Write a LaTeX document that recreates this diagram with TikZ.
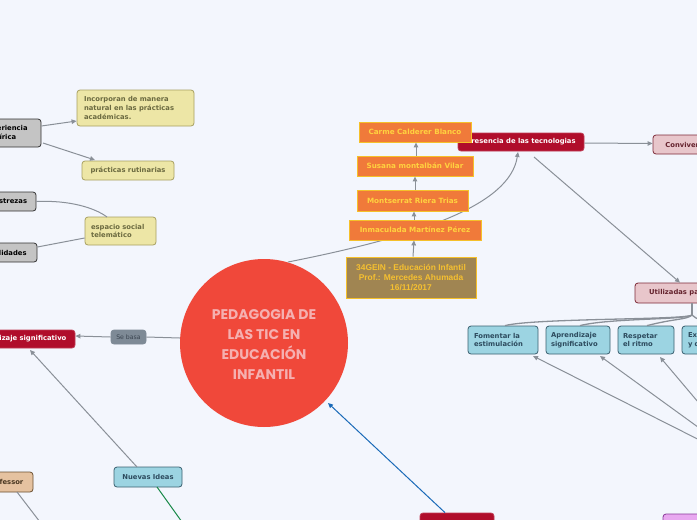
\documentclass[tikz,border=0pt]{standalone}
\usepackage{fontspec}
\usetikzlibrary{arrows.meta}
\newfontfamily\dvs{DejaVu Sans}
\newfontfamily\lib{Liberation Sans}
\newfontfamily\pop{Poppins}
\definecolor{bgc}{HTML}{F3F6FD}
\definecolor{conn}{HTML}{8A9098}
\definecolor{redb}{HTML}{B00D2B}
\definecolor{orf}{HTML}{F07A3A}
\definecolor{orb}{HTML}{F5C02A}
\definecolor{ort}{HTML}{FFD23F}
\definecolor{geinf}{HTML}{A08552}
\definecolor{geint}{HTML}{F5C030}
\definecolor{yelf}{HTML}{EDE6A6}
\definecolor{yelb}{HTML}{A8A060}
\definecolor{yelt}{HTML}{6B6A40}
\definecolor{grayf}{HTML}{C4C4C4}
\definecolor{grayb}{HTML}{333333}
\definecolor{bluf}{HTML}{9CD4E2}
\definecolor{blub}{HTML}{3A6070}
\definecolor{blut}{HTML}{2D4B5E}
\definecolor{pinkf}{HTML}{E8C6CB}
\definecolor{pinkb}{HTML}{7D2A38}
\definecolor{peachf}{HTML}{E5C2A0}
\definecolor{peachb}{HTML}{6A5030}
\definecolor{circf}{HTML}{F0483A}
\definecolor{circt}{HTML}{F5B0B0}
\definecolor{sbf}{HTML}{7E8A96}
\definecolor{sbt}{HTML}{3A4450}
\definecolor{violf}{HTML}{E8A8F0}
\definecolor{violb}{HTML}{8A3A9A}
\definecolor{bluarr}{HTML}{1A6AB8}
\definecolor{greenl}{HTML}{1A8A4A}
\tikzset{
  bx/.style={rounded corners=3pt, draw, line width=0.8pt, inner sep=0pt, font=\dvs\bfseries\fontsize{6.8}{8.8}\selectfont},
  yel/.style={bx, fill=yelf, draw=yelb, text=yelt},
  gry/.style={bx, fill=grayf, draw=grayb, text=black},
  redx/.style={bx, fill=redb, draw=redb!80!white, text=white},
  blu/.style={bx, fill=bluf, draw=blub, text=blut},
  pnk/.style={bx, fill=pinkf, draw=pinkb, text=pinkb!80!black},
  orx/.style={draw=orb, fill=orf, text=ort, line width=0.8pt, inner sep=0pt, font=\dvs\bfseries\fontsize{7.2}{8.8}\selectfont},
  cn/.style={draw=conn, line width=1pt},
  ar/.style={cn, -{Triangle[length=5pt,width=4.5pt]}},
}
\begin{document}
\begin{tikzpicture}[x=1pt,y=-1pt]
\fill[bgc] (0,0) rectangle (697,520);
\useasboundingbox (0,0) rectangle (697,520);

% left group
\node[gry, minimum width=64, minimum height=28, text width=52, align=left] (exp) at (9,133) {Experiencia\\empírica};
\node[yel, minimum width=117, minimum height=36, text width=103, align=left] (inc) at (135.5,108) {Incorporan de manera\\natural en las prácticas\\académicas.};
\node[yel, minimum width=92, minimum height=19] (rut) at (128,170.5) {prácticas rutinarias};
\node[gry, minimum width=56, minimum height=19] (des) at (8,201.5) {Destrezas};
\node[gry, minimum width=66, minimum height=19] (hab) at (4,252.5) {Habilidades};
\node[yel, minimum width=71, minimum height=28, text width=59, align=left] (esp) at (120.5,231) {espacio social\\telemático};

\draw[ar] (exp.east |- 0,126) -- (inc.west |- 0,121);
\draw[ar] (43,143) -- (95,160);
\draw[cn] (des.east) .. controls (70,200) and (95,208) .. (107,217);
\draw[cn] (hab.east |- 0,247) -- (esp.west |- 0,238);

\node[redx, minimum width=112, minimum height=18] (apr) at (19,339) {Aprendizaje significativo};
\node[bx, fill=sbf, draw=sbf, text=sbt, minimum width=35, minimum height=14, font=\dvs\fontsize{6.2}{7}\selectfont] (seb) at (128.5,337) {Se basa};
\node[blu, minimum width=68, minimum height=20] (nue) at (148,477) {Nuevas Ideas};
\node[bx, fill=peachf, draw=peachb, text=peachb!70!black, minimum width=56, minimum height=20] (prof) at (5,482) {Professor};

% circle
\node[circle, fill=circf, minimum size=168, inner sep=0] (main) at (264,343) {};
\node[text=circt, font=\pop\bfseries\fontsize{14}{20}\selectfont, align=center] (mt) at (264,345) {PEDAGOGIA DE\\LAS TIC EN\\EDUCACIÓN\\INFANTIL};

\draw[cn] (main.west |- 0,338) -- (seb.east);
\draw[ar] (seb.west) -- (apr.east |- 0,336);
\draw[ar] (137,467) -- (30,350);
\coordinate (gend) at (182,522);
\coordinate (pend) at (40,522);
\draw[draw=greenl, line width=1pt] (157,487) -- (gend);
\draw[cn] (17,492) -- (pend);

% curve to Presencia (drawn behind the orange boxes)
\draw[ar] (288,262) .. controls (420,236) and (510,205) .. (518,152);

% top middle
\node[redx, minimum width=126, minimum height=18] (pres) at (521,142) {Presencia de las tecnologias};
\node[orx, minimum width=112, minimum height=20] (carme) at (415,132) {Carme Calderer Blanco};
\node[orx, minimum width=116, minimum height=20] (sus) at (415,166) {Susana montalbán Vilar};
\node[orx, minimum width=111, minimum height=21] (mon) at (412.5,200.5) {Montserrat Riera Trias};
\node[orx, minimum width=132, minimum height=20] (inm) at (415,230) {Inmaculada Martínez Pérez};
\node[draw=orb, fill=geinf, text=geint, line width=0.8pt, inner sep=0pt, minimum width=130, minimum height=41, align=center, font=\lib\bfseries\fontsize{8.4}{9.9}\selectfont] (gein) at (411,277.5) {34GEIN - Educación Infantil\\Prof.: Mercedes Ahumada\\16/11/2017};

\draw[ar] (gein.north -| 413,0) -- (inm.south -| 414,0);
\draw[ar] (inm.north -| 414,0) -- (mon.south -| 414,0);
\draw[ar] (mon.north -| 415,0) -- (sus.south -| 415,0);
\draw[ar] (sus.north -| 416,0) -- (carme.south -| 416,0);

\node[pnk, minimum width=60, minimum height=19] (conv) at (683,144.5) {Conviven};
\node[pnk, minimum width=86, minimum height=20] (util) at (678,293) {Utilizadas para};
\draw[ar] (pres.east |- 0,143) -- (conv.west |- 0,143.5);
\draw[ar] (534,157) -- (util.north -| 680,0);

\node[blu, minimum width=70, minimum height=28, text width=58, align=left] (fom) at (503,340) {Fomentar la\\estimulación};
\node[blu, minimum width=64, minimum height=28, text width=54, align=left] (aps) at (578,340) {Aprendizaje\\significativo};
\node[blu, minimum width=56, minimum height=28, text width=46, align=left] (res) at (646,340) {Respetar\\el ritmo};
\node[blu, minimum width=70, minimum height=28, text width=58, align=left] (exn) at (717,340) {Explorar\\y descubrir};

\coordinate (tj) at (692,315);
\draw[cn, line width=1.3pt] (util.south -| 692,0) -- (tj);
\foreach \c/\x in {fom/505, aps/580, res/647} {
  \draw[cn, line width=1.3pt] (tj) .. controls (686,320) and (\x+30,318) .. (\c.north -| \x,0);
}
\draw[cn, line width=1.3pt] (tj) .. controls (696,320) and (705,320) .. (exn.north);

\coordinate (src) at (753,467);
\draw[ar] (src) -- (533,356);
\draw[ar] (src) -- (600,356);
\draw[ar] (src) -- (660,357);

% bottom
\node[redx, minimum width=74, minimum height=22] (rb) at (457,524) {};
\node[bx, fill=violf, draw=violb, minimum width=80, minimum height=24] (vb) at (703,526) {};
\draw[draw=bluarr, line width=1pt, -{Triangle[length=5pt,width=4.5pt]}] (rb.north -| 445,0) -- (328,403);
\end{tikzpicture}
\end{document}
